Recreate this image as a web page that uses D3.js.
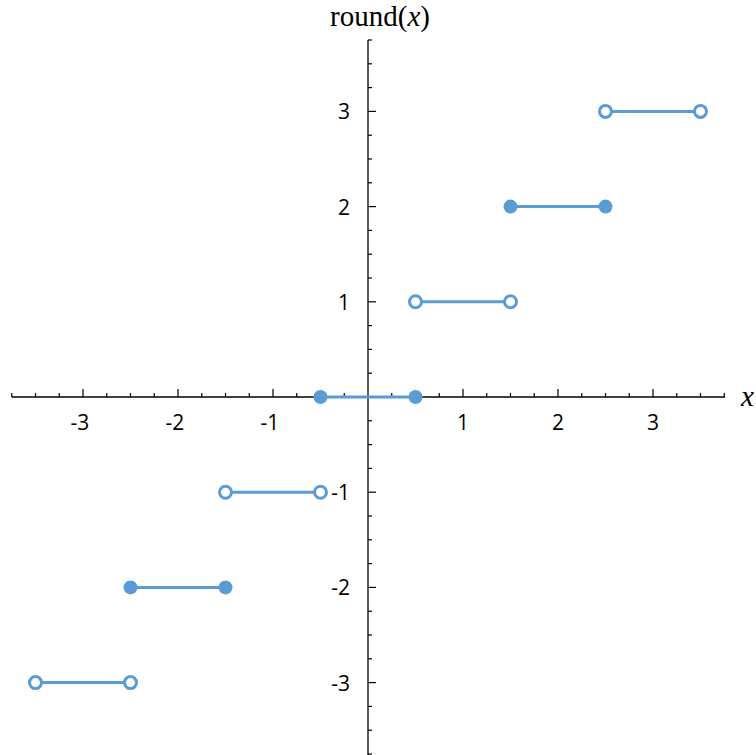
<!DOCTYPE html>
<html>
<head>
<meta charset="utf-8">
<script src="https://cdn.jsdelivr.net/npm/d3@7"></script>
<style>
  body { margin: 0; background: #fff; }
  svg { display: block; }
</style>
</head>
<body>
<svg id="chart" width="756" height="755"></svg>
<script>
// steps of round(x), round-half-to-even
let segStart = [-3.5, -2.5, -1.5, -0.5, 0.5, 1.5, 2.5];
let segEnd = [-2.5, -1.5, -0.5, 0.5, 1.5, 2.5, 3.5];
let segValue = [-3, -2, -1, 0, 1, 2, 3];
let segClosed = [false, true, false, true, false, true, false];
let tickValues = [-3, -2, -1, 1, 2, 3];

drawChart();

function drawChart() {
  let svg = d3.select("#chart");
  let blue = "#5b9bd5";

  let xScale = d3.scaleLinear().domain([0, 1]).range([368, 463]);
  let yScale = d3.scaleLinear().domain([0, 1]).range([397, 301.8]);

  let minor = d3.range(-15, 16).map((i) => i / 4);

  // x axis
  let xg = svg.append("g");
  xg.append("line")
    .attr("x1", xScale(-3.75)).attr("x2", xScale(3.76))
    .attr("y1", yScale(0)).attr("y2", yScale(0))
    .attr("stroke", "#000").attr("stroke-width", 1.3);
  xg.selectAll(".xt")
    .data(minor.filter((d) => d !== 0))
    .enter()
    .append("line")
    .attr("x1", (d) => xScale(d)).attr("x2", (d) => xScale(d))
    .attr("y1", yScale(0))
    .attr("y2", (d) => yScale(0) - (Number.isInteger(d) ? 8 : 4))
    .attr("stroke", "#000").attr("stroke-width", 1.2);
  xg.selectAll(".xl")
    .data(tickValues)
    .enter()
    .append("text")
    .attr("x", (d) => xScale(d) - (d < 0 ? 3 : 0))
    .attr("y", yScale(0) + 33)
    .attr("text-anchor", "middle")
    .style("font-family", "Open Sans")
    .style("font-size", "21px")
    .text((d) => d);

  // y axis
  let yg = svg.append("g");
  yg.append("line")
    .attr("x1", xScale(0)).attr("x2", xScale(0))
    .attr("y1", yScale(3.75)).attr("y2", 755)
    .attr("stroke", "#000").attr("stroke-width", 1.3);
  yg.selectAll(".yt")
    .data(minor.filter((d) => d !== 0))
    .enter()
    .append("line")
    .attr("y1", (d) => yScale(d)).attr("y2", (d) => yScale(d))
    .attr("x1", xScale(0))
    .attr("x2", (d) => xScale(0) + (Number.isInteger(d) ? 8 : 4))
    .attr("stroke", "#000").attr("stroke-width", 1.2);
  yg.selectAll(".yl")
    .data(tickValues)
    .enter()
    .append("text")
    .attr("x", xScale(0) - 18)
    .attr("y", (d) => yScale(d) + 8)
    .attr("text-anchor", "end")
    .style("font-family", "Open Sans")
    .style("font-size", "21px")
    .text((d) => d);

  // axis titles
  let title = svg.append("text")
    .attr("x", 380).attr("y", 26)
    .attr("text-anchor", "middle")
    .style("font-family", "Liberation Serif")
    .style("font-size", "29px");
  title.append("tspan").text("round(");
  title.append("tspan").style("font-style", "italic").text("x");
  title.append("tspan").text(")");

  svg.append("text")
    .attr("x", 741).attr("y", 406)
    .style("font-family", "Liberation Serif")
    .style("font-size", "29px")
    .style("font-style", "italic")
    .text("x");

  // segments
  let idx = d3.range(segValue.length);
  svg.selectAll(".seg")
    .data(idx)
    .enter()
    .append("line")
    .attr("x1", (i) => xScale(segStart[i]))
    .attr("x2", (i) => xScale(segEnd[i]))
    .attr("y1", (i) => yScale(segValue[i]))
    .attr("y2", (i) => yScale(segValue[i]))
    .attr("stroke", blue)
    .attr("stroke-width", 3);

  let pts = [];
  idx.forEach((i) => {
    pts.push({ x: segStart[i], y: segValue[i], closed: segClosed[i] });
    pts.push({ x: segEnd[i], y: segValue[i], closed: segClosed[i] });
  });

  svg.selectAll(".pt")
    .data(pts)
    .enter()
    .append("circle")
    .attr("cx", (d) => xScale(d.x))
    .attr("cy", (d) => yScale(d.y))
    .attr("r", (d) => (d.closed ? 7 : 6))
    .attr("fill", (d) => (d.closed ? blue : "#fff"))
    .attr("stroke", blue)
    .attr("stroke-width", (d) => (d.closed ? 0 : 3));
}
</script>
</body>
</html>
